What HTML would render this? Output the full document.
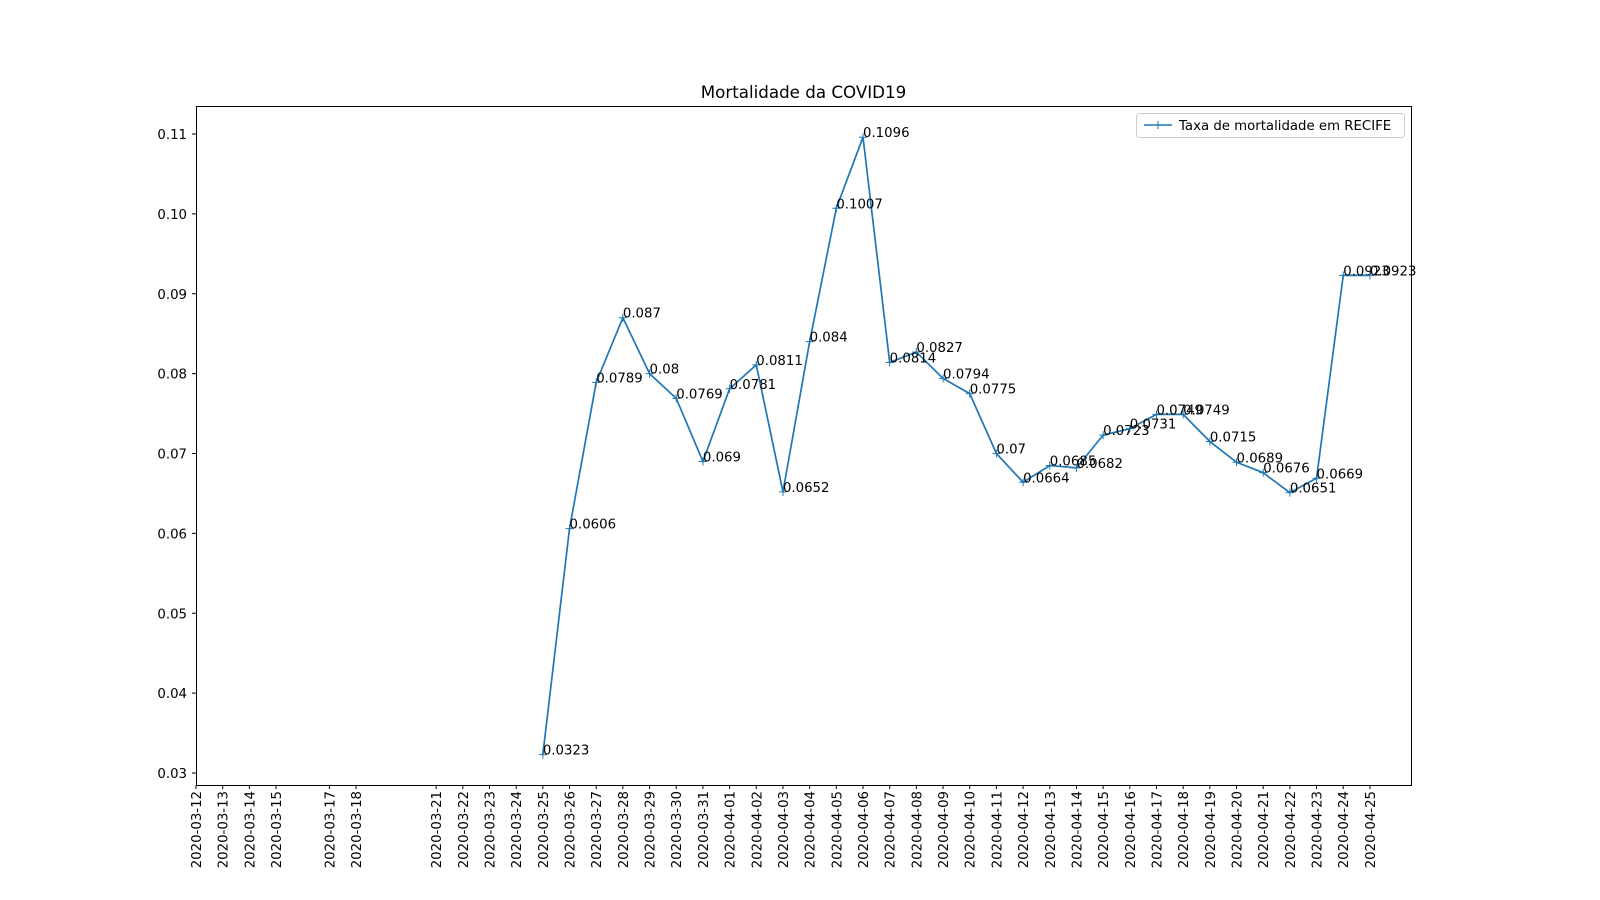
<!DOCTYPE html>
<html><head><meta charset="utf-8"><style>
body{margin:0;background:#fff;}
svg{display:block;font-family:"DejaVu Sans","Liberation Sans",sans-serif;}
</style></head><body>
<svg id="chart" width="1600" height="900">
<rect x="0" y="0" width="1600" height="900" fill="#fff"/>
<text x="803.5" y="98" font-size="16.7" text-anchor="middle">Mortalidade da COVID19</text>
<g id="grid"></g>
<g id="series"></g>
<rect x="196.5" y="106.5" width="1215" height="679" fill="none" stroke="#000" stroke-width="1"/>
<g>
<rect x="1136.5" y="113.5" width="268" height="24" rx="3" fill="#fff" stroke="#ccc"/>
<line x1="1144" y1="125" x2="1172" y2="125" stroke="#1f77b4" stroke-width="1.5"/>
<path d="M1154 125h8M1158 121v8" stroke="#1f77b4" stroke-width="1"/>
<text x="1179" y="130" font-size="13.3">Taxa de mortalidade em RECIFE</text>
</g>
</svg>
<script>
const tickDates=["2020-03-12","2020-03-13","2020-03-14","2020-03-15","2020-03-17","2020-03-18","2020-03-21","2020-03-22","2020-03-23","2020-03-24","2020-03-25","2020-03-26","2020-03-27","2020-03-28","2020-03-29","2020-03-30","2020-03-31","2020-04-01","2020-04-02","2020-04-03","2020-04-04","2020-04-05","2020-04-06","2020-04-07","2020-04-08","2020-04-09","2020-04-10","2020-04-11","2020-04-12","2020-04-13","2020-04-14","2020-04-15","2020-04-16","2020-04-17","2020-04-18","2020-04-19","2020-04-20","2020-04-21","2020-04-22","2020-04-23","2020-04-24","2020-04-25"];
const yTicks=[0.03,0.04,0.05,0.06,0.07,0.08,0.09,0.10,0.11];
const yTickLabels=["0.03","0.04","0.05","0.06","0.07","0.08","0.09","0.10","0.11"];
const dataDates=["2020-03-25","2020-03-26","2020-03-27","2020-03-28","2020-03-29","2020-03-30","2020-03-31","2020-04-01","2020-04-02","2020-04-03","2020-04-04","2020-04-05","2020-04-06","2020-04-07","2020-04-08","2020-04-09","2020-04-10","2020-04-11","2020-04-12","2020-04-13","2020-04-14","2020-04-15","2020-04-16","2020-04-17","2020-04-18","2020-04-19","2020-04-20","2020-04-21","2020-04-22","2020-04-23","2020-04-24","2020-04-25"];
const rates=[0.0323,0.0606,0.0789,0.087,0.08,0.0769,0.069,0.0781,0.0811,0.0652,0.084,0.1007,0.1096,0.0814,0.0827,0.0794,0.0775,0.07,0.0664,0.0685,0.0682,0.0723,0.0731,0.0749,0.0749,0.0715,0.0689,0.0676,0.0651,0.0669,0.0923,0.0923];

const NS="http://www.w3.org/2000/svg";
const day0=Date.UTC(2020,2,12);
function dayIdx(s){const p=s.split("-");return (Date.UTC(+p[0],+p[1]-1,+p[2])-day0)/86400000;}
function xs(s){return 196+dayIdx(s)*26.68;}
function ys(v){return 773-(v-0.03)*7987.5;}
function mk(tag,attrs,parent){const e=document.createElementNS(NS,tag);for(const k in attrs)e.setAttribute(k,attrs[k]);parent.appendChild(e);return e;}
const grid=document.getElementById("grid");
const ser=document.getElementById("series");
yTicks.forEach((v,i)=>{
  const y=ys(v);
  const t=mk("line",{x1:192,x2:196,y1:y,y2:y,stroke:"#000"},grid);
  
  
  const l=mk("text",{x:187,y:y+5,"font-size":13.3,"text-anchor":"end"},grid);
  l.textContent=yTickLabels[i];
  
  
});
tickDates.forEach(d=>{
  const x=xs(d);
  const t=mk("line",{x1:x,x2:x,y1:785,y2:789,stroke:"#000"},grid);
  
  
  const l=mk("text",{x:0,y:0,"font-size":13.3,"text-anchor":"end",transform:`translate(${x+5},791) rotate(-90)`},grid);
  l.textContent=d;
  
  
});
const pts=dataDates.map((d,i)=>[xs(d),ys(rates[i])]);
const line=mk("polyline",{points:pts.map(p=>p.join(",")).join(" "),fill:"none",stroke:"#1f77b4","stroke-width":1.7},ser);


pts.forEach((p,i)=>{
  const m=mk("path",{d:`M${p[0]-4} ${p[1]}h8M${p[0]} ${p[1]-4}v8`,stroke:"#1f77b4","stroke-width":1},ser);
  
  
  const l=mk("text",{x:p[0],y:p[1],"font-size":13.3},ser);
  l.textContent=String(rates[i]);
  
  
});
</script>
</body></html>
